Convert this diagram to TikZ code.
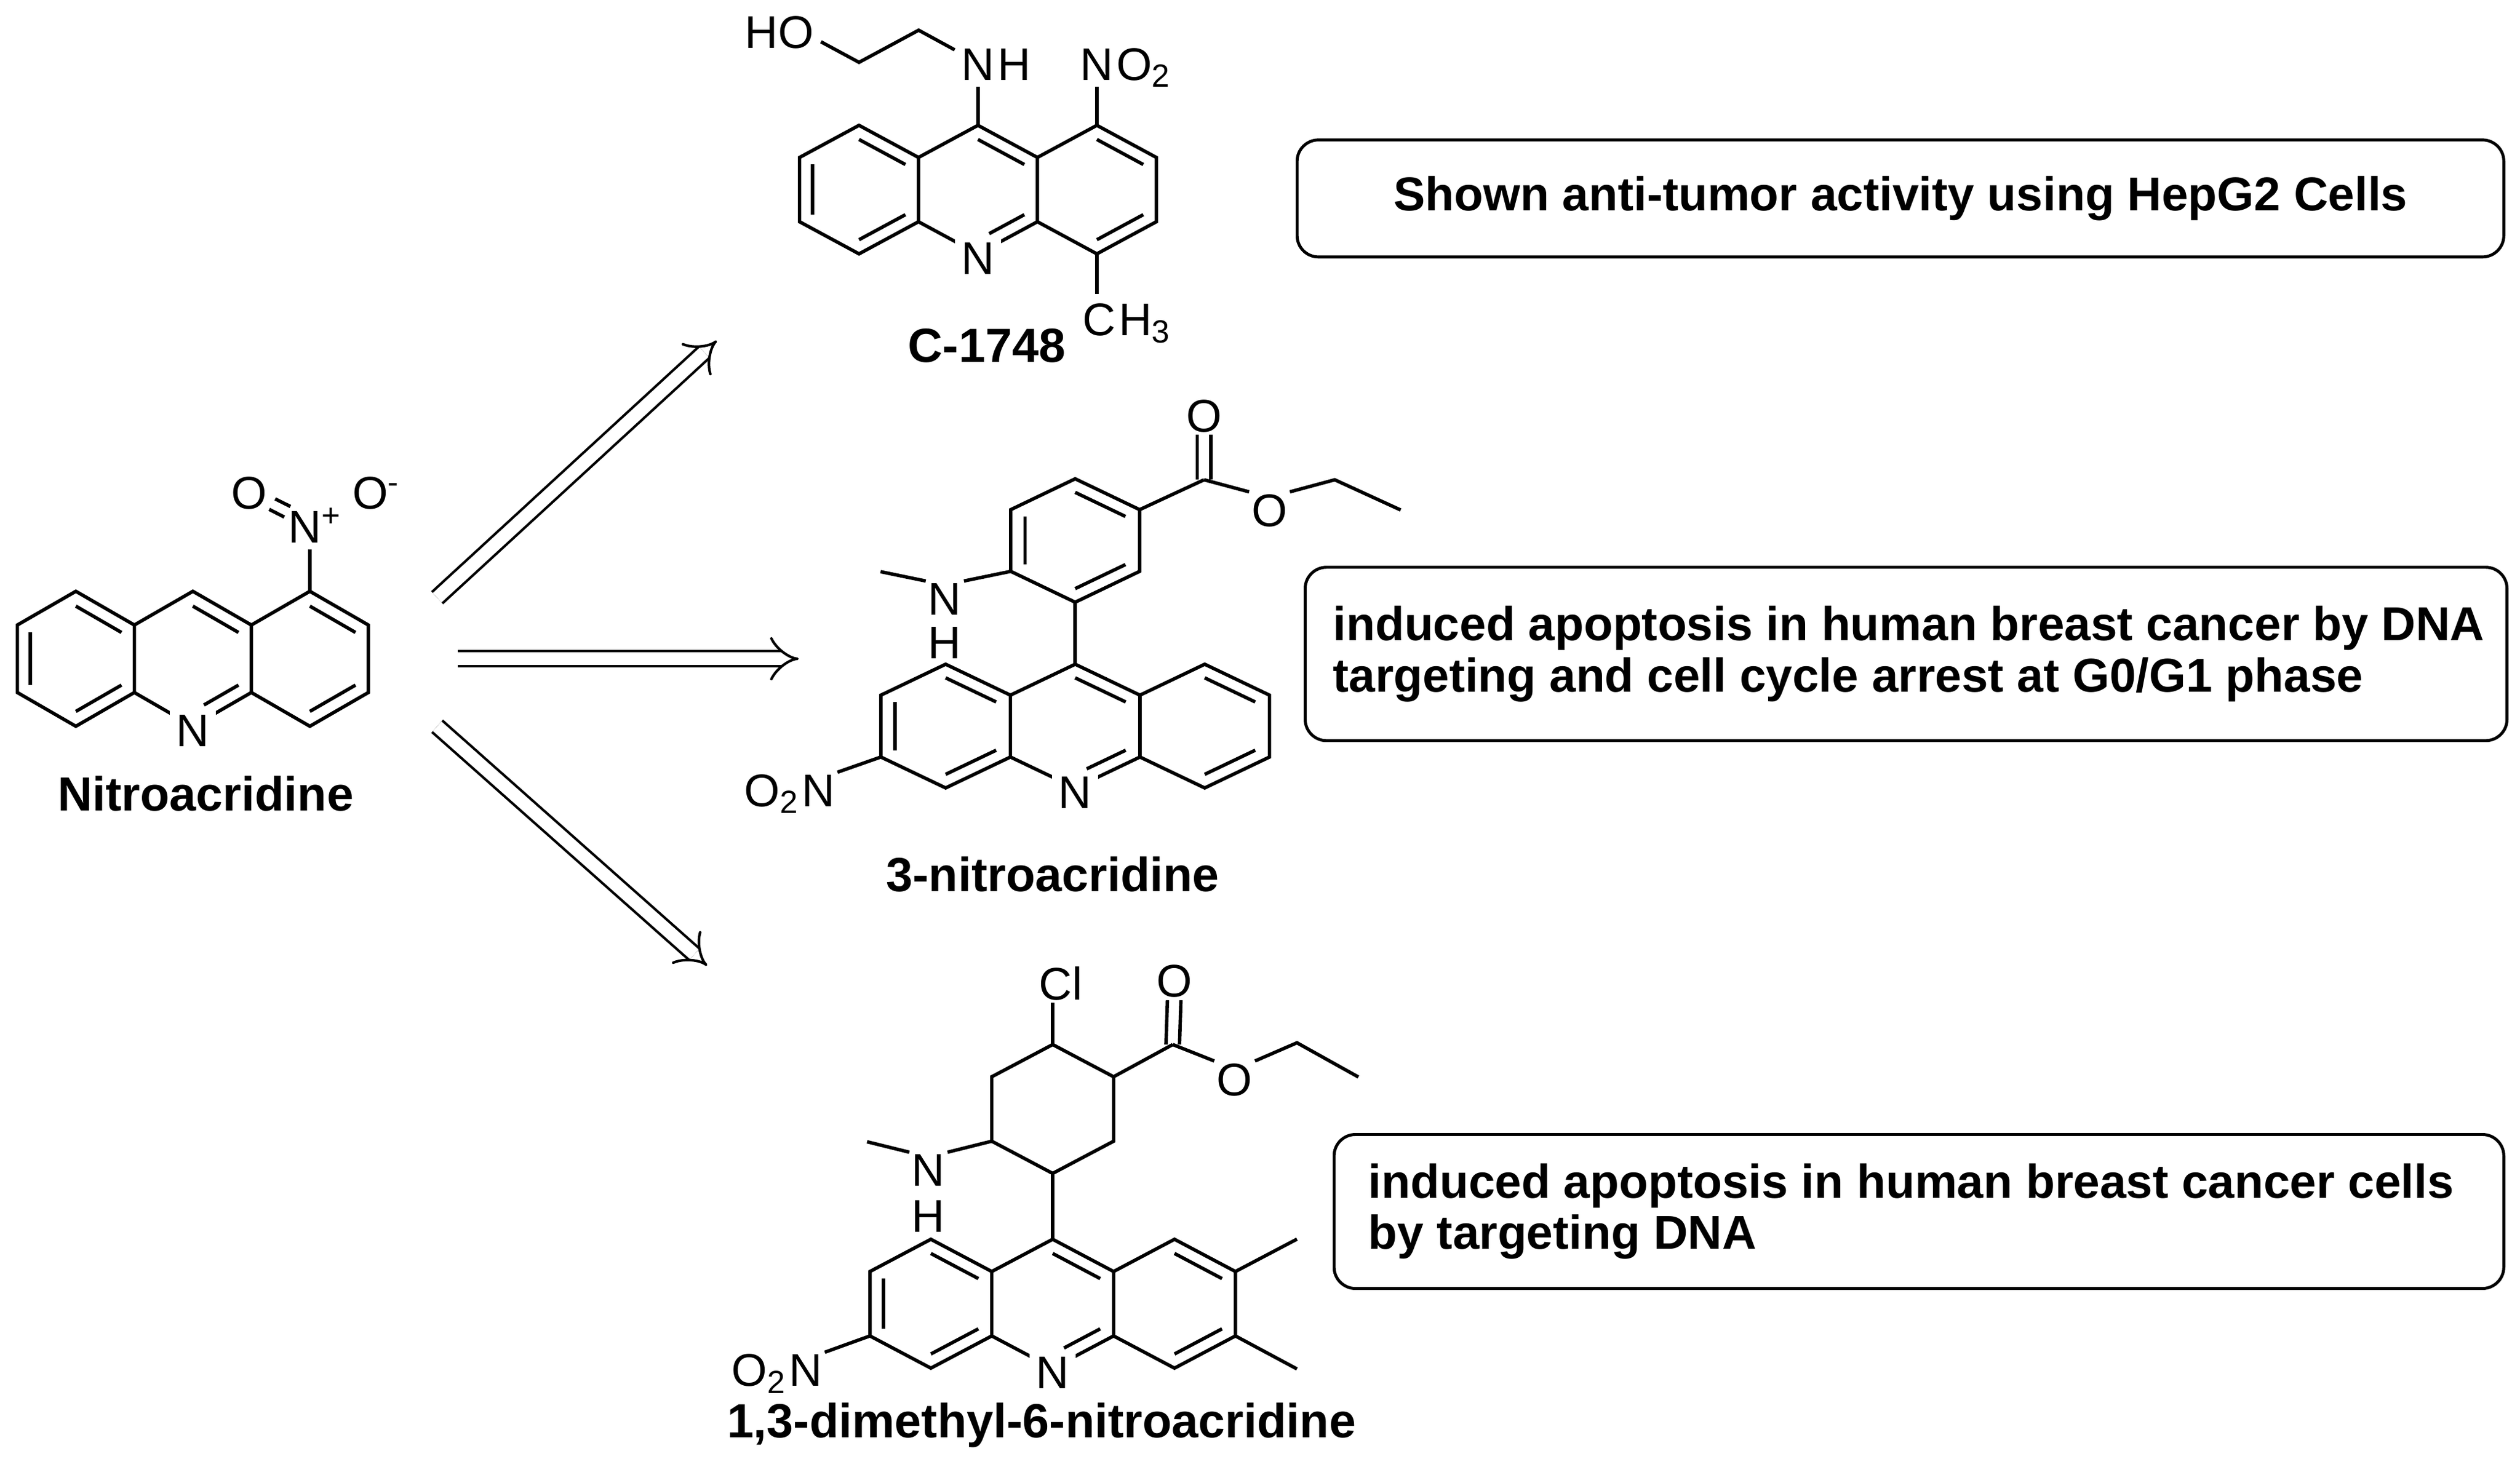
\documentclass[tikz,border=0pt]{standalone}
\usepackage{fontspec}
\setmainfont{Liberation Sans}
\usetikzlibrary{calc,arrows.meta}
\tikzset{
  bond/.style={line width=1.6pt},
  atom/.style={font=\fontsize{21.5}{21.5}\selectfont, inner sep=1pt},
  lbl/.style={font=\fontsize{22.5}{22.5}\selectfont\bfseries, inner sep=1pt},
  box/.style={draw, line width=1.4pt, rounded corners=10pt},
  boxtext/.style={font=\fontsize{22.3}{24}\selectfont\bfseries, align=left, inner sep=0pt},
  hollow/.style={double, double distance=6pt, line width=1.2pt, -{Implies[length=9pt]}}
}
\newcommand\hexpts[5]{%
 \coordinate (#10) at (#2,#3);
 \coordinate (#11) at (#2,#3-#5);
 \coordinate (#12) at (#2+#4,#3-0.5*#5);
 \coordinate (#13) at (#2+#4,#3+0.5*#5);
 \coordinate (#14) at (#2,#3+#5);
 \coordinate (#15) at (#2-#4,#3+0.5*#5);
 \coordinate (#16) at (#2-#4,#3-0.5*#5);}
\newcommand\dbl[3]{\draw[bond] ($(#1)!0.22!(#3)$) -- ($(#2)!0.22!(#3)$);}
\newcommand\acrid[5]{%
 \hexpts{#1a}{#2-2*#4}{#3}{#4}{#5}
 \hexpts{#1b}{#2}{#3}{#4}{#5}
 \hexpts{#1c}{#2+2*#4}{#3}{#4}{#5}
 \draw[bond] (#1a1)--(#1a2)--(#1a3)--(#1a4)--(#1a5)--(#1a6)--cycle;
 \draw[bond] (#1c1)--(#1c2)--(#1c3)--(#1c4)--(#1c5)--(#1c6)--cycle;
 \draw[bond] (#1b6)--(#1b1)--(#1b2);
 \draw[bond] (#1b3)--(#1b4)--(#1b5);
 \dbl{#1a1}{#1a2}{#1a0}\dbl{#1a5}{#1a6}{#1a0}\dbl{#1a3}{#1a4}{#1a0}
 \dbl{#1b1}{#1b2}{#1b0}
 \draw[bond,shorten <=6pt] ($(#1b4)!0.22!(#1b0)$)--($(#1b3)!0.22!(#1b0)$);
 \dbl{#1c1}{#1c2}{#1c0}\dbl{#1c3}{#1c4}{#1c0}
 \node[atom,fill=white,inner sep=3pt] (#1N) at ($(#1b4)+(0,3)$) {N};}
\begin{document}
\begin{tikzpicture}[x=0.0265cm,y=-0.0265cm]
\useasboundingbox (0,0) rectangle (1568,913);
% ---------- Nitroacridine
\acrid{P}{120}{410}{36.4}{42}
\coordinate (Pn) at (192.8,342);
\draw[bond] (Pc1)--(Pn);
\node[atom] (PN) at (196,327) {N\textsuperscript{+}};
\node[atom] (PO1) at (155,307) {O};
\node[atom] (PO2) at (234,307) {O\textsuperscript{-}};
\coordinate (Pd1) at (171.2,310.5); \coordinate (Pd2) at (180.7,315.2);
\coordinate (Pd3) at (167.5,317); \coordinate (Pd4) at (176.9,321.8);
\draw[bond] (Pd1)--(Pd2); \draw[bond] (Pd3)--(Pd4);
\node[lbl] (Plbl) at (128,494) {Nitroacridine};
% ---------- C-1748
\acrid{A}{608.5}{118}{37}{40}
\coordinate (Anh) at (608.5,54); \draw[bond] (Ab1)--(Anh);
\node[atom] (AN) at (608.5,40) {N};
\node[atom,anchor=base west,inner sep=0pt] (AH) at (AN.base east) {H};
\coordinate (Ach1) at (594,31); \coordinate (Ach2) at (571.6,18.8);
\coordinate (Ach3) at (534.5,38.8); \coordinate (Ach4) at (510.8,26);
\draw[bond] (Ach1)--(Ach2)--(Ach3)--(Ach4);
\node[atom] (AHO) at (485,20) {HO};
\coordinate (Ano) at (682.5,54); \draw[bond] (Ac1) -- (Ano);
\node[atom] (ANN) at (682.5,40) {N};
\node[atom,anchor=base west,inner sep=0pt] (ANO) at (ANN.base east) {O\textsubscript{2}};
\coordinate (Ame) at (682.5,183);
\draw[bond] (Ac4) -- (Ame);
\node[atom] (AC) at (684,199) {C};
\node[atom,anchor=base west,inner sep=0pt] (AH3) at (AC.base east) {H\textsubscript{3}};
\node[lbl] (Albl) at (614,215) {C-1748};
% ---------- 3-nitroacridine
\acrid{B}{669}{451.9}{40.3}{38.5}
\hexpts{Br}{669}{336.4}{40.1}{38.4}
\draw[bond] (Br1)--(Br2)--(Br3)--(Br4)--(Br5)--(Br6)--cycle;
\dbl{Br1}{Br2}{Br0}\dbl{Br5}{Br6}{Br0}\dbl{Br3}{Br4}{Br0}
\draw[bond] (Bb1)--(Br4);
\coordinate (BC) at (749.2,298.6);
\draw[bond] (Br2)--(BC);
\node[atom] (BO1) at (749.2,259) {O};
\draw[bond] ($(BC)+(-4.3,0)$) -- ($(BO1.south)+(-4.3,0)$);
\draw[bond] ($(BC)+(4.3,0)$) -- ($(BO1.south)+(4.3,0)$);
\node[atom] (BO2) at (789.9,317.8) {O};
\coordinate (BCH2) at (830.5,298.6); \coordinate (BCH3) at (871.5,317.4);
\draw[bond] (BC)--(BO2.north west);
\draw[bond] (BO2.north east)--(BCH2)--(BCH3);
\node[atom] (BN) at (587.9,373) {N};
\node[atom] (BH) at (587.9,400) {H};
\coordinate (BMe) at (547.9,355.8);
\draw[bond] (Br5)--(BN.north east);
\draw[bond] (BN.north west)--(BMe);
\node[atom] (BNO) at (509.2,492) {N};
\node[atom,anchor=base east,inner sep=0pt] (BO2N) at (BNO.base west) {O\textsubscript{2}};
\draw[bond] (Ba5)--(BNO.north east);
\node[lbl] (Blbl) at (655,544) {3-nitroacridine};
% ---------- 1,3-dimethyl-6-nitroacridine
\acrid{D}{655}{811.4}{37.9}{40.1}
\hexpts{Dr}{655}{690.2}{37.9}{40.1}
\draw[bond] (Dr1)--(Dr2)--(Dr3)--(Dr4)--(Dr5)--(Dr6)--cycle;
\draw[bond] (Db1)--(Dr4);
\node[atom] (DCl) at (660,612) {Cl};
\draw[bond] (Dr1)--(DCl.south -| Dr1);
\coordinate (DC) at (729.7,650.1);
\draw[bond] (Dr2)--(DC);
\node[atom] (DO1) at (730.6,610.8) {O};
\draw[bond] ($(DC)+(-4.2,0)$) -- ($(DO1.south)+(-4.2,0)$);
\draw[bond] ($(DC)+(4.2,0)$) -- ($(DO1.south)+(4.2,0)$);
\node[atom] (DO2) at (768.2,672) {O};
\coordinate (DCH2) at (807,649); \coordinate (DCH3) at (845.2,670.3);
\draw[bond] (DC)--(DO2.north west);
\draw[bond] (DO2.north east)--(DCH2)--(DCH3);
\node[atom] (DN) at (577.7,728.5) {N};
\node[atom] (DH) at (577.7,757) {H};
\coordinate (DMe) at (539.5,710.6);
\draw[bond] (Dr5)--(DN.north east);
\draw[bond] (DN.north west)--(DMe);
\node[atom] (DNO) at (501.3,853) {N};
\node[atom,anchor=base east,inner sep=0pt] (DO2N) at (DNO.base west) {O\textsubscript{2}};
\draw[bond] (Da5)--(DNO.north east);
\coordinate (DMe1) at (807,771.2); \coordinate (DMe2) at (807,852);
\draw[bond] (Dc2)--(DMe1);
\draw[bond] (Dc3)--(DMe2);
\node[lbl] (Dlbl) at (648,887) {1,3-dimethyl-6-nitroacridine};
% ---------- arrows
\coordinate (R1s) at (272,372); \coordinate (R1e) at (446,212);
\coordinate (R2s) at (285,410); \coordinate (R2e) at (497,410);
\coordinate (R3s) at (272,452); \coordinate (R3e) at (440,601);
\draw[hollow] (R1s)--(R1e);
\draw[hollow] (R2s)--(R2e);
\draw[hollow] (R3s)--(R3e);
% ---------- boxes
\node[box, minimum width=19.90cm, minimum height=1.93cm] (X1) at (1182.5,123.5) {};
\node[boxtext] (T1) at (X1.center) {Shown anti-tumor activity using HepG2 Cells};
\node[box, minimum width=19.82cm, minimum height=2.86cm] (X2) at (1186,407) {};
\node[boxtext, anchor=west] (T2) at ($(X2.west)+(18,0)$) {induced apoptosis in human breast cancer by DNA\\targeting and cell cycle arrest at G0/G1 phase};
\node[box, minimum width=19.29cm, minimum height=2.54cm] (X3) at (1194,754) {};
\node[boxtext, anchor=west] (T3) at ($(X3.west)+(22,0)$) {induced apoptosis in human breast cancer cells\\by targeting DNA};
\end{tikzpicture}
\end{document}
